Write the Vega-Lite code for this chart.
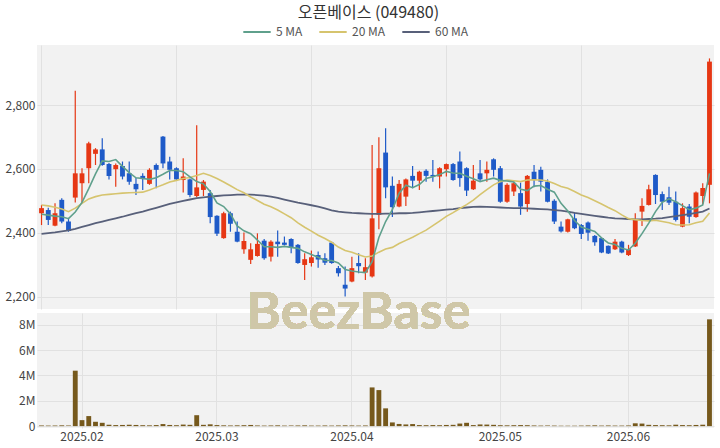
{
  "$schema": "https://vega.github.io/schema/vega-lite/v6.json",
  "background": "white",
  "padding": {"left": 5, "right": 5, "top": 5, "bottom": 3},
  "title": {"text": "오픈베이스 (049480)", "font": "Noto Sans CJK KR", "fontSize": 16, "fontWeight": "normal", "color": "#333333", "anchor": "middle", "offset": -4, "dx": 9},
  "spacing": 4,
  "bounds": "flush",
  "datasets": {
    "k": [
      {"d":"2025-01-20","o":2461,"h":2487,"l":2424,"c":2477,"v":50000,"m5":2458,"m20":2487,"m60":2396},
      {"d":"2025-01-21","o":2471,"h":2478,"l":2424,"c":2440,"v":40000,"m5":2455,"m20":2484,"m60":2399},
      {"d":"2025-01-22","o":2422,"h":2492,"l":2420,"c":2461,"v":45000,"m5":2452,"m20":2480,"m60":2401},
      {"d":"2025-01-23","o":2503,"h":2508,"l":2430,"c":2435,"v":60000,"m5":2450,"m20":2474,"m60":2404},
      {"d":"2025-01-24","o":2435,"h":2445,"l":2403,"c":2405,"v":50000,"m5":2444,"m20":2466,"m60":2407},
      {"d":"2025-01-31","o":2510,"h":2845,"l":2495,"c":2586,"v":4370000,"m5":2465,"m20":2477,"m60":2412},
      {"d":"2025-02-03","o":2555,"h":2602,"l":2492,"c":2586,"v":470000,"m5":2495,"m20":2492,"m60":2418},
      {"d":"2025-02-04","o":2602,"h":2685,"l":2555,"c":2680,"v":790000,"m5":2538,"m20":2506,"m60":2424},
      {"d":"2025-02-05","o":2647,"h":2665,"l":2612,"c":2661,"v":340000,"m5":2584,"m20":2513,"m60":2430},
      {"d":"2025-02-06","o":2661,"h":2696,"l":2610,"c":2612,"v":260000,"m5":2625,"m20":2518,"m60":2435},
      {"d":"2025-02-07","o":2615,"h":2618,"l":2567,"c":2578,"v":100000,"m5":2623,"m20":2520,"m60":2440},
      {"d":"2025-02-10","o":2599,"h":2617,"l":2544,"c":2612,"v":80000,"m5":2629,"m20":2522,"m60":2445},
      {"d":"2025-02-11","o":2609,"h":2623,"l":2567,"c":2576,"v":90000,"m5":2608,"m20":2524,"m60":2450},
      {"d":"2025-02-12","o":2586,"h":2623,"l":2550,"c":2560,"v":110000,"m5":2588,"m20":2525,"m60":2456},
      {"d":"2025-02-13","o":2553,"h":2571,"l":2518,"c":2536,"v":90000,"m5":2572,"m20":2526,"m60":2461},
      {"d":"2025-02-14","o":2578,"h":2586,"l":2534,"c":2568,"v":70000,"m5":2570,"m20":2527,"m60":2466},
      {"d":"2025-02-17","o":2553,"h":2602,"l":2550,"c":2597,"v":60000,"m5":2567,"m20":2534,"m60":2472},
      {"d":"2025-02-18","o":2612,"h":2617,"l":2539,"c":2597,"v":80000,"m5":2572,"m20":2542,"m60":2478},
      {"d":"2025-02-19","o":2701,"h":2703,"l":2602,"c":2617,"v":160000,"m5":2583,"m20":2550,"m60":2484},
      {"d":"2025-02-20","o":2623,"h":2638,"l":2567,"c":2597,"v":90000,"m5":2595,"m20":2559,"m60":2490},
      {"d":"2025-02-21","o":2602,"h":2605,"l":2562,"c":2567,"v":70000,"m5":2595,"m20":2564,"m60":2495},
      {"d":"2025-02-24","o":2565,"h":2633,"l":2526,"c":2576,"v":120000,"m5":2591,"m20":2570,"m60":2500},
      {"d":"2025-02-25","o":2567,"h":2570,"l":2511,"c":2518,"v":100000,"m5":2575,"m20":2573,"m60":2504},
      {"d":"2025-02-26","o":2515,"h":2737,"l":2511,"c":2542,"v":860000,"m5":2560,"m20":2579,"m60":2508},
      {"d":"2025-02-27","o":2534,"h":2565,"l":2515,"c":2560,"v":100000,"m5":2553,"m20":2586,"m60":2511},
      {"d":"2025-02-28","o":2524,"h":2534,"l":2430,"c":2449,"v":140000,"m5":2529,"m20":2579,"m60":2513},
      {"d":"2025-03-04","o":2453,"h":2455,"l":2390,"c":2397,"v":80000,"m5":2493,"m20":2570,"m60":2515},
      {"d":"2025-03-05","o":2383,"h":2466,"l":2381,"c":2461,"v":60000,"m5":2482,"m20":2559,"m60":2517},
      {"d":"2025-03-06","o":2461,"h":2466,"l":2403,"c":2428,"v":50000,"m5":2459,"m20":2547,"m60":2518},
      {"d":"2025-03-07","o":2403,"h":2435,"l":2370,"c":2372,"v":60000,"m5":2421,"m20":2535,"m60":2519},
      {"d":"2025-03-10","o":2348,"h":2401,"l":2334,"c":2374,"v":70000,"m5":2406,"m20":2525,"m60":2519},
      {"d":"2025-03-11","o":2315,"h":2367,"l":2302,"c":2348,"v":90000,"m5":2397,"m20":2512,"m60":2519},
      {"d":"2025-03-12","o":2327,"h":2398,"l":2325,"c":2365,"v":50000,"m5":2377,"m20":2501,"m60":2518},
      {"d":"2025-03-13","o":2375,"h":2380,"l":2315,"c":2320,"v":40000,"m5":2356,"m20":2489,"m60":2516},
      {"d":"2025-03-14","o":2325,"h":2376,"l":2310,"c":2372,"v":50000,"m5":2356,"m20":2481,"m60":2513},
      {"d":"2025-03-17","o":2372,"h":2407,"l":2325,"c":2364,"v":60000,"m5":2354,"m20":2471,"m60":2509},
      {"d":"2025-03-18","o":2369,"h":2388,"l":2360,"c":2362,"v":40000,"m5":2357,"m20":2459,"m60":2504},
      {"d":"2025-03-19","o":2380,"h":2383,"l":2336,"c":2352,"v":40000,"m5":2354,"m20":2447,"m60":2499},
      {"d":"2025-03-20","o":2362,"h":2365,"l":2303,"c":2305,"v":50000,"m5":2351,"m20":2431,"m60":2494},
      {"d":"2025-03-21","o":2299,"h":2336,"l":2252,"c":2317,"v":60000,"m5":2340,"m20":2417,"m60":2490},
      {"d":"2025-03-24","o":2305,"h":2344,"l":2294,"c":2323,"v":40000,"m5":2332,"m20":2405,"m60":2486},
      {"d":"2025-03-25","o":2330,"h":2341,"l":2290,"c":2316,"v":40000,"m5":2323,"m20":2392,"m60":2482},
      {"d":"2025-03-26","o":2320,"h":2336,"l":2299,"c":2306,"v":50000,"m5":2313,"m20":2382,"m60":2476},
      {"d":"2025-03-27","o":2369,"h":2372,"l":2303,"c":2305,"v":40000,"m5":2313,"m20":2370,"m60":2470},
      {"d":"2025-03-28","o":2289,"h":2296,"l":2263,"c":2273,"v":50000,"m5":2305,"m20":2355,"m60":2466},
      {"d":"2025-03-31","o":2237,"h":2294,"l":2200,"c":2225,"v":60000,"m5":2285,"m20":2344,"m60":2464},
      {"d":"2025-04-01","o":2247,"h":2325,"l":2245,"c":2289,"v":50000,"m5":2280,"m20":2339,"m60":2462},
      {"d":"2025-04-02","o":2305,"h":2336,"l":2273,"c":2295,"v":40000,"m5":2277,"m20":2331,"m60":2461},
      {"d":"2025-04-03","o":2275,"h":2320,"l":2252,"c":2292,"v":50000,"m5":2275,"m20":2324,"m60":2460},
      {"d":"2025-04-04","o":2263,"h":2675,"l":2260,"c":2445,"v":3050000,"m5":2309,"m20":2327,"m60":2459},
      {"d":"2025-04-07","o":2456,"h":2699,"l":2411,"c":2602,"v":2840000,"m5":2385,"m20":2339,"m60":2459},
      {"d":"2025-04-08","o":2651,"h":2727,"l":2508,"c":2542,"v":1400000,"m5":2435,"m20":2349,"m60":2460},
      {"d":"2025-04-09","o":2547,"h":2576,"l":2449,"c":2480,"v":290000,"m5":2472,"m20":2354,"m60":2460},
      {"d":"2025-04-10","o":2482,"h":2565,"l":2480,"c":2553,"v":170000,"m5":2524,"m20":2366,"m60":2461},
      {"d":"2025-04-11","o":2513,"h":2570,"l":2484,"c":2567,"v":130000,"m5":2549,"m20":2376,"m60":2461},
      {"d":"2025-04-14","o":2578,"h":2609,"l":2539,"c":2563,"v":160000,"m5":2541,"m20":2386,"m60":2462},
      {"d":"2025-04-15","o":2563,"h":2594,"l":2534,"c":2591,"v":80000,"m5":2551,"m20":2397,"m60":2464},
      {"d":"2025-04-16","o":2594,"h":2599,"l":2560,"c":2578,"v":70000,"m5":2570,"m20":2408,"m60":2466},
      {"d":"2025-04-17","o":2581,"h":2628,"l":2560,"c":2576,"v":80000,"m5":2575,"m20":2422,"m60":2468},
      {"d":"2025-04-18","o":2576,"h":2605,"l":2539,"c":2602,"v":70000,"m5":2582,"m20":2436,"m60":2470},
      {"d":"2025-04-21","o":2599,"h":2617,"l":2576,"c":2615,"v":90000,"m5":2592,"m20":2451,"m60":2472},
      {"d":"2025-04-22","o":2615,"h":2618,"l":2563,"c":2565,"v":100000,"m5":2587,"m20":2463,"m60":2474},
      {"d":"2025-04-23","o":2623,"h":2654,"l":2544,"c":2571,"v":200000,"m5":2586,"m20":2476,"m60":2477},
      {"d":"2025-04-24","o":2602,"h":2605,"l":2515,"c":2532,"v":260000,"m5":2577,"m20":2488,"m60":2479},
      {"d":"2025-04-25","o":2536,"h":2612,"l":2534,"c":2563,"v":80000,"m5":2569,"m20":2502,"m60":2481},
      {"d":"2025-04-28","o":2586,"h":2628,"l":2560,"c":2567,"v":130000,"m5":2560,"m20":2519,"m60":2482},
      {"d":"2025-04-29","o":2586,"h":2623,"l":2560,"c":2597,"v":120000,"m5":2566,"m20":2535,"m60":2481},
      {"d":"2025-04-30","o":2630,"h":2633,"l":2576,"c":2597,"v":100000,"m5":2571,"m20":2550,"m60":2480},
      {"d":"2025-05-02","o":2602,"h":2609,"l":2494,"c":2497,"v":70000,"m5":2564,"m20":2560,"m60":2479},
      {"d":"2025-05-07","o":2497,"h":2555,"l":2494,"c":2550,"v":60000,"m5":2562,"m20":2565,"m60":2478},
      {"d":"2025-05-08","o":2529,"h":2560,"l":2515,"c":2555,"v":70000,"m5":2559,"m20":2563,"m60":2477},
      {"d":"2025-05-09","o":2524,"h":2557,"l":2456,"c":2482,"v":80000,"m5":2536,"m20":2560,"m60":2477},
      {"d":"2025-05-12","o":2490,"h":2581,"l":2466,"c":2578,"v":70000,"m5":2532,"m20":2565,"m60":2476},
      {"d":"2025-05-13","o":2591,"h":2612,"l":2542,"c":2565,"v":50000,"m5":2546,"m20":2566,"m60":2475},
      {"d":"2025-05-14","o":2597,"h":2607,"l":2529,"c":2560,"v":40000,"m5":2548,"m20":2565,"m60":2474},
      {"d":"2025-05-15","o":2560,"h":2567,"l":2495,"c":2497,"v":50000,"m5":2536,"m20":2562,"m60":2473},
      {"d":"2025-05-16","o":2500,"h":2505,"l":2427,"c":2435,"v":40000,"m5":2527,"m20":2554,"m60":2471},
      {"d":"2025-05-19","o":2419,"h":2435,"l":2401,"c":2404,"v":30000,"m5":2492,"m20":2545,"m60":2469},
      {"d":"2025-05-20","o":2403,"h":2444,"l":2401,"c":2442,"v":30000,"m5":2468,"m20":2539,"m60":2466},
      {"d":"2025-05-21","o":2445,"h":2463,"l":2411,"c":2414,"v":30000,"m5":2438,"m20":2529,"m60":2462},
      {"d":"2025-05-22","o":2424,"h":2427,"l":2380,"c":2396,"v":40000,"m5":2418,"m20":2518,"m60":2459},
      {"d":"2025-05-23","o":2432,"h":2435,"l":2375,"c":2400,"v":50000,"m5":2411,"m20":2510,"m60":2456},
      {"d":"2025-05-26","o":2390,"h":2393,"l":2359,"c":2370,"v":60000,"m5":2404,"m20":2500,"m60":2453},
      {"d":"2025-05-27","o":2383,"h":2385,"l":2336,"c":2338,"v":40000,"m5":2384,"m20":2490,"m60":2450},
      {"d":"2025-05-28","o":2359,"h":2360,"l":2333,"c":2335,"v":50000,"m5":2368,"m20":2479,"m60":2447},
      {"d":"2025-05-29","o":2348,"h":2380,"l":2346,"c":2372,"v":40000,"m5":2363,"m20":2469,"m60":2445},
      {"d":"2025-05-30","o":2372,"h":2375,"l":2336,"c":2338,"v":40000,"m5":2351,"m20":2456,"m60":2444},
      {"d":"2025-06-02","o":2330,"h":2362,"l":2327,"c":2348,"v":50000,"m5":2346,"m20":2444,"m60":2443},
      {"d":"2025-06-04","o":2357,"h":2461,"l":2355,"c":2442,"v":220000,"m5":2367,"m20":2441,"m60":2442},
      {"d":"2025-06-05","o":2466,"h":2508,"l":2421,"c":2484,"v":200000,"m5":2397,"m20":2438,"m60":2442},
      {"d":"2025-06-09","o":2487,"h":2550,"l":2485,"c":2536,"v":100000,"m5":2430,"m20":2437,"m60":2443},
      {"d":"2025-06-10","o":2581,"h":2583,"l":2490,"c":2518,"v":80000,"m5":2466,"m20":2439,"m60":2444},
      {"d":"2025-06-11","o":2521,"h":2529,"l":2471,"c":2497,"v":70000,"m5":2495,"m20":2435,"m60":2446},
      {"d":"2025-06-12","o":2511,"h":2544,"l":2487,"c":2494,"v":60000,"m5":2506,"m20":2431,"m60":2449},
      {"d":"2025-06-13","o":2497,"h":2529,"l":2435,"c":2440,"v":110000,"m5":2497,"m20":2425,"m60":2452},
      {"d":"2025-06-16","o":2419,"h":2492,"l":2417,"c":2477,"v":80000,"m5":2485,"m20":2424,"m60":2455},
      {"d":"2025-06-17","o":2482,"h":2490,"l":2430,"c":2450,"v":70000,"m5":2472,"m20":2425,"m60":2458},
      {"d":"2025-06-18","o":2449,"h":2529,"l":2447,"c":2526,"v":90000,"m5":2477,"m20":2431,"m60":2462},
      {"d":"2025-06-19","o":2515,"h":2555,"l":2490,"c":2540,"v":110000,"m5":2487,"m20":2436,"m60":2466},
      {"d":"2025-06-20","o":2550,"h":2946,"l":2492,"c":2936,"v":8420000,"m5":2586,"m20":2462,"m60":2476}
    ]
  },
  "data": {"name": "k"},
  "vconcat": [
    {
      "width": 677,
      "height": 264,
      "encoding": {
        "x": {
          "field": "d", "type": "ordinal",
          "scale": {"paddingInner": 0, "paddingOuter": 0.17},
          "axis": {"values": ["2025-01-20","2025-02-21","2025-03-24","2025-04-21","2025-05-22"], "labels": false, "ticks": false, "domain": false, "grid": true, "bandPosition": 0.5, "title": null}
        }
      },
      "layer": [
        {
          "mark": {"type": "rule", "strokeWidth": 1.2},
          "encoding": {
            "y": {"field": "l", "type": "quantitative", "scale": {"domain": [2161, 2988], "nice": false, "zero": false},
                  "axis": {"values": [2200, 2400, 2600, 2800], "tickCount": 10, "labelExpr": "format(datum.value, ',')", "title": null, "labelPadding": 2, "labelOverlap": false}},
            "y2": {"field": "h"},
            "color": {"condition": {"test": "datum.c >= datum.o", "value": "#e63714"}, "value": "#1e5ac8"}
          }
        },
        {
          "mark": {"type": "bar", "width": {"band": 0.72}},
          "encoding": {
            "y": {"field": "o", "type": "quantitative"},
            "y2": {"field": "c"},
            "color": {"condition": {"test": "datum.c >= datum.o", "value": "#e63714"}, "value": "#1e5ac8"}
          }
        },
        {
          "mark": {"type": "line", "strokeWidth": 1.8},
          "encoding": {
            "y": {"field": "m60", "type": "quantitative"},
            "color": {"datum": "60 MA", "type": "nominal"}
          }
        },
        {
          "mark": {"type": "line", "strokeWidth": 1.6},
          "encoding": {
            "y": {"field": "m20", "type": "quantitative"},
            "color": {"datum": "20 MA", "type": "nominal"}
          }
        },
        {
          "mark": {"type": "line", "strokeWidth": 1.6},
          "encoding": {
            "y": {"field": "m5", "type": "quantitative"},
            "color": {
              "datum": "5 MA", "type": "nominal",
              "scale": {"domain": ["5 MA", "20 MA", "60 MA"], "range": ["#5fa08c", "#d6c46e", "#58607a"]},
              "legend": {"orient": "none", "legendX": 205, "legendY": -28, "direction": "horizontal", "title": null,
                         "symbolType": "stroke", "symbolStrokeWidth": 2, "symbolSize": 750,
                         "labelFont": "Noto Sans CJK KR", "labelFontSize": 12, "labelColor": "#555555", "columnPadding": 12, "labelOffset": 4}
            }
          }
        }
      ]
    },
    {
      "width": 677,
      "height": 115,
      "layer": [
        {
          "mark": {"type": "bar", "width": {"band": 0.72}, "color": "#76591c"},
          "encoding": {
            "x": {
              "field": "d", "type": "ordinal",
              "scale": {"paddingInner": 0, "paddingOuter": 0.17},
              "axis": {"values": ["2025-02-03","2025-03-04","2025-04-01","2025-05-02","2025-06-02"],
                       "labelExpr": "replace(substring(datum.value, 0, 7), '-', '.')",
                       "labelAngle": 0, "labelPadding": 3, "labelOverlap": false, "ticks": false, "domain": false, "grid": true, "bandPosition": 0.5, "title": null}
            },
            "y": {"field": "v", "type": "quantitative", "scale": {"domain": [-150000, 8920000], "nice": false, "zero": false},
                  "axis": {"values": [0, 2000000, 4000000, 6000000, 8000000], "tickCount": 10, "labelExpr": "datum.value == 0 ? '0' : (datum.value / 1000000) + 'M'", "title": null, "labelPadding": 2, "labelOverlap": false}},
            "y2": {"datum": 0}
          }
        },
        {
          "mark": {"type": "text", "text": "BeezBase", "font": "Lato", "fontWeight": "bold", "fontSize": 52, "color": "#cfc7a8", "opacity": 0.65, "baseline": "middle", "align": "center"},
          "encoding": {
            "x": {"datum": "2025-04-02", "type": "ordinal"},
            "y": {"datum": 8950000, "type": "quantitative"}
          }
        }
      ]
    }
  ],
  "config": {
    "view": {"fill": "#f2f2f2", "stroke": null},
    "axis": {"gridColor": "#e1e1e1", "gridWidth": 1, "labelFont": "Noto Sans CJK KR", "labelFontSize": 12, "labelColor": "#444444", "ticks": false, "domain": false},
    "axisY": {"labelOverlap": false}
  }
}
